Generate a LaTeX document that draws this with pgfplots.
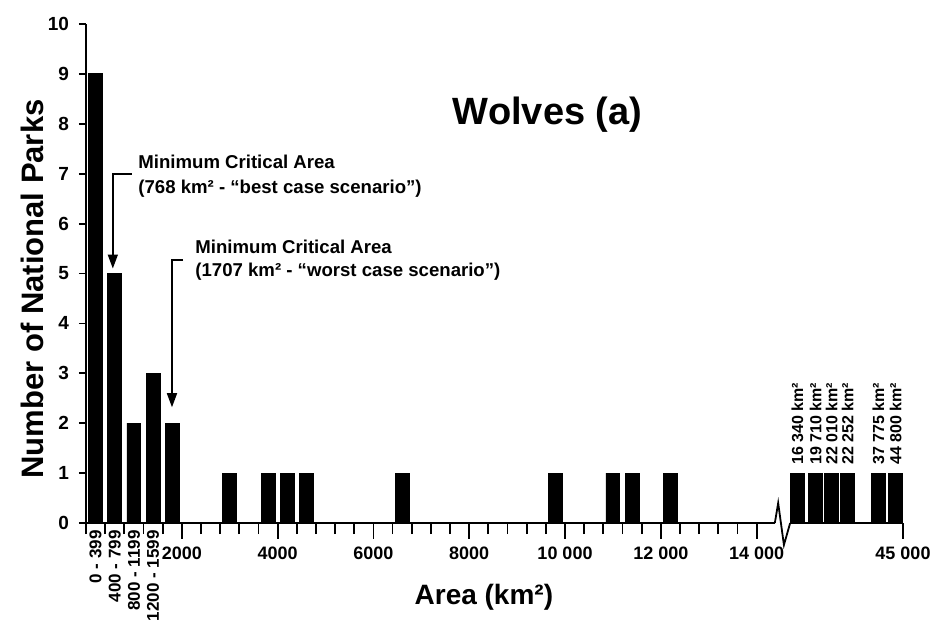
\documentclass[border=0pt]{standalone}
\usepackage{fontspec}
\setmainfont{Liberation Sans}
\usepackage{pgfplots}
\pgfplotsset{compat=1.18}
\usetikzlibrary{arrows.meta}
\tikzset{
  binlab/.style={rotate=90, anchor=east, inner sep=0pt, font=\bfseries\fontsize{8.5}{9}\selectfont},
  parklab/.style={rotate=90, anchor=west, inner sep=0pt, font=\bfseries\fontsize{8}{9}\selectfont},
}
\begin{document}
\begin{tikzpicture}
\path[use as bounding box] (-43pt,-52pt) rectangle (427pt,261.5pt);
\begin{axis}[
  scale only axis, width=408.5pt, height=249.5pt,
  xmin=0, xmax=17056, ymin=0, ymax=10,
  axis x line=bottom, axis y line=left,
  axis line style={-, line width=1pt},
  clip=false,
  ybar, bar width=290,
  tick align=outside,
  scaled x ticks=false,
  major tick length=3.5pt, minor tick length=5.5pt,
  every tick/.style={black, line width=0.9pt},
  ytick={0,1,...,10},
  xtick={2000,4000,6000,8000,10000,12000,14000,17056},
  xticklabels={2000,4000,6000,8000,10 000,12 000,14 000,45 000},
  minor xtick={0,400,...,14000},
  /pgf/number format/assume math mode=true,
  yticklabel style={font=\bfseries\fontsize{9.5}{10}\selectfont, xshift=-1.5pt},
  xticklabel style={font=\bfseries\fontsize{9}{10}\selectfont, yshift=-5pt},
  xlabel={Area (km²)},
  ylabel={Number of National Parks},
  xlabel style={font=\bfseries\fontsize{14}{16}\selectfont, at={(axis description cs:0.487,-0.148)}, anchor=center},
  ylabel style={font=\bfseries\fontsize{15.5}{17}\selectfont, at={(axis description cs:-0.066,0.469)}, anchor=center, rotate=0},
]
\addplot[fill=black, draw=black] coordinates {
(200,9) (600,5) (1000,2) (1400,3) (1800,2)
(3000,1) (3800,1) (4200,1) (4600,1) (6600,1)
(9800,1) (11000,1) (11400,1) (12200,1)
(14854,1) (15230,1) (15564,1) (15898,1) (16545,1) (16900,1)
};
% longer major x ticks
\pgfplotsinvokeforeach{2000,4000,6000,8000,10000,12000,14000,17056}{
  \draw[line width=0.9pt] (axis cs:#1,0) -- ++(0,-8pt);
}
% axis break
\draw[white, line width=2.5pt] (axis cs:14380,0) -- (axis cs:14705,0);
\draw[line width=0.9pt] (axis cs:14380,0) -- (axis cs:14450,0.4) -- (axis cs:14570,-0.44) -- (axis cs:14700,0);
% title
\node[font=\bfseries\fontsize{19}{22}\selectfont] at (axis description cs:0.565,0.818) {Wolves (a)};
% bin labels
\node[binlab] at ([yshift=-3.5pt]axis cs:200,0) {0 - 399};
\node[binlab] at ([yshift=-3.5pt]axis cs:600,0) {400 - 799};
\node[binlab] at ([yshift=-3.5pt]axis cs:1000,0) {800 - 1199};
\node[binlab] at ([yshift=-3.5pt]axis cs:1400,0) {1200 - 1599};
% large park labels
\node[parklab] at ([yshift=4pt]axis cs:14854,1) {16 340 km²};
\node[parklab] at ([yshift=4pt]axis cs:15230,1) {19 710 km²};
\node[parklab] at ([yshift=4pt]axis cs:15564,1) {22 010 km²};
\node[parklab] at ([yshift=4pt]axis cs:15898,1) {22 252 km²};
\node[parklab] at ([yshift=4pt]axis cs:16545,1) {37 775 km²};
\node[parklab] at ([yshift=4pt]axis cs:16900,1) {44 800 km²};
% annotations
\node[anchor=west, inner sep=0pt, align=left, font=\bfseries\fontsize{9.3}{12.5}\selectfont] at (axis cs:1086,6.96)
  {Minimum Critical Area\\(768 km² - “best case scenario”)};
\node[anchor=west, inner sep=0pt, align=left, font=\bfseries\fontsize{9.3}{11.5}\selectfont] at (axis cs:2276,5.27)
  {Minimum Critical Area\\(1707 km² - “worst case scenario”)};
\draw[line width=0.8pt, -{Triangle[length=7pt,width=5pt]}] (axis cs:960,6.99) -- (axis cs:560,6.99) -- (axis cs:560,5.1);
\draw[line width=0.8pt, -{Triangle[length=7pt,width=5pt]}] (axis cs:2025,5.27) -- (axis cs:1795,5.27) -- (axis cs:1795,2.32);
\end{axis}
\end{tikzpicture}
\end{document}
